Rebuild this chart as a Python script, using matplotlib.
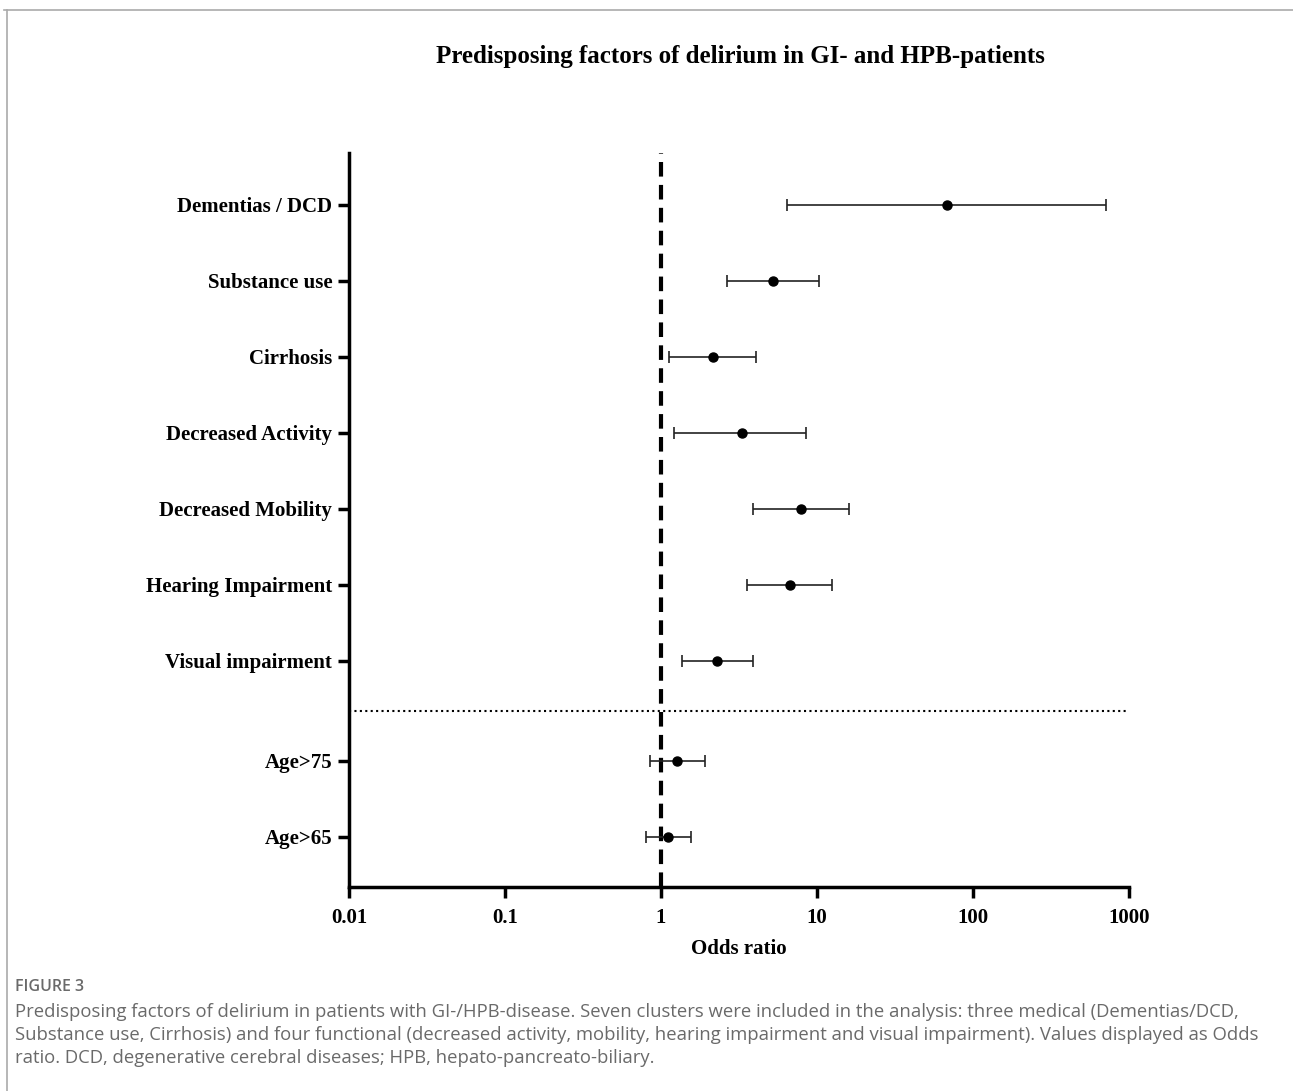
import numpy as np
import matplotlib.pyplot as plt
from matplotlib.lines import Line2D

# factors listed bottom to top
factors = ['Age>65', 'Age>75', 'Visual impairment', 'Hearing Impairment',
           'Decreased Mobility', 'Decreased Activity', 'Cirrhosis',
           'Substance use', 'Dementias / DCD']
odds = [1.11, 1.27, 2.30, 6.70, 7.85, 3.31, 2.14, 5.21, 67.7]
ci_low = [0.80, 0.845, 1.36, 3.58, 3.90, 1.22, 1.12, 2.64, 6.38]
ci_high = [1.55, 1.92, 3.90, 12.4, 16.0, 8.45, 4.07, 10.3, 713]
xticks = [0.01, 0.1, 1, 10, 100, 1000]
xticklabels = ['0.01', '0.1', '1', '10', '100', '1000']

title = 'Predisposing factors of delirium in GI- and HPB-patients'
caption = ('Predisposing factors of delirium in patients with GI-/HPB-disease. Seven clusters were included in the analysis: three medical (Dementias/DCD,\n'
           'Substance use, Cirrhosis) and four functional (decreased activity, mobility, hearing impairment and visual impairment). Values displayed as Odds\n'
           'ratio. DCD, degenerative cerebral diseases; HPB, hepato-pancreato-biliary.')

# two age rows at the bottom, a gap, then the seven clusters
gap = 1.32
ypos = np.array([0, 1] + [1 + gap + i for i in range(7)], dtype=float)

odds = np.array(odds)
err = np.vstack([odds - np.array(ci_low), np.array(ci_high) - odds])

fig = plt.figure(figsize=(12.93, 10.91), dpi=100)
ax = fig.add_axes([349 / 1293, 1 - 887 / 1091, 780 / 1293, 734 / 1091])

serif = 'Liberation Serif'

ax.errorbar(odds, ypos, xerr=err, fmt='o', color='black', ms=6.5,
            elinewidth=1.2, capsize=4.5, capthick=1.2, ecolor='#222222', zorder=3)
ax.axvline(1, color='black', lw=3, ls=(0, (3.5, 2)), zorder=2)
ax.plot([0.01, 1000], [1 + gap / 2, 1 + gap / 2], color='black', lw=1.5,
        ls=(0, (1, 1.6)), zorder=1)

ax.set_xscale('log')
ax.set_xlim(0.01, 1000)
ax.set_ylim(-0.66, ypos[-1] + 0.68)
ax.set_xticks(xticks)
ax.set_xticklabels(xticklabels, fontfamily=serif, fontweight='bold', fontsize=15)
ax.minorticks_off()
ax.set_yticks(ypos)
ax.set_yticklabels(factors, fontfamily=serif, fontweight='bold', fontsize=15)
ax.tick_params(axis='both', length=8, width=2.5, color='black')
ax.tick_params(axis='x', pad=7)
ax.tick_params(axis='y', pad=4)
for side in ['top', 'right']:
    ax.spines[side].set_visible(False)
for side in ['left', 'bottom']:
    ax.spines[side].set_linewidth(2.5)
ax.set_xlabel('Odds ratio', fontfamily=serif, fontweight='bold', fontsize=15, labelpad=8)

fig.text(740 / 1293, 1 - 57 / 1091, title, ha='center', va='center',
         fontfamily=serif, fontweight='bold', fontsize=18)

# frame lines
fig.add_artist(Line2D([4 / 1293, 1], [1 - 10 / 1091, 1 - 10 / 1091], color='#aaaaaa', lw=1.2))
fig.add_artist(Line2D([7 / 1293, 7 / 1293], [0, 1 - 10 / 1091], color='#aaaaaa', lw=1.2))

fig.text(15 / 1293, 1 - 987 / 1091, 'FIGURE 3', ha='left', va='center',
         fontfamily='Open Sans', fontsize=11.5, fontweight='semibold', color='#6a6a6a')
fig.text(15 / 1293, 1 - 1003 / 1091, caption, ha='left', va='top',
         fontfamily='Open Sans', fontsize=13.3, color='#6a6a6a', linespacing=1.36)

fig.savefig('out.png', dpi=100)
